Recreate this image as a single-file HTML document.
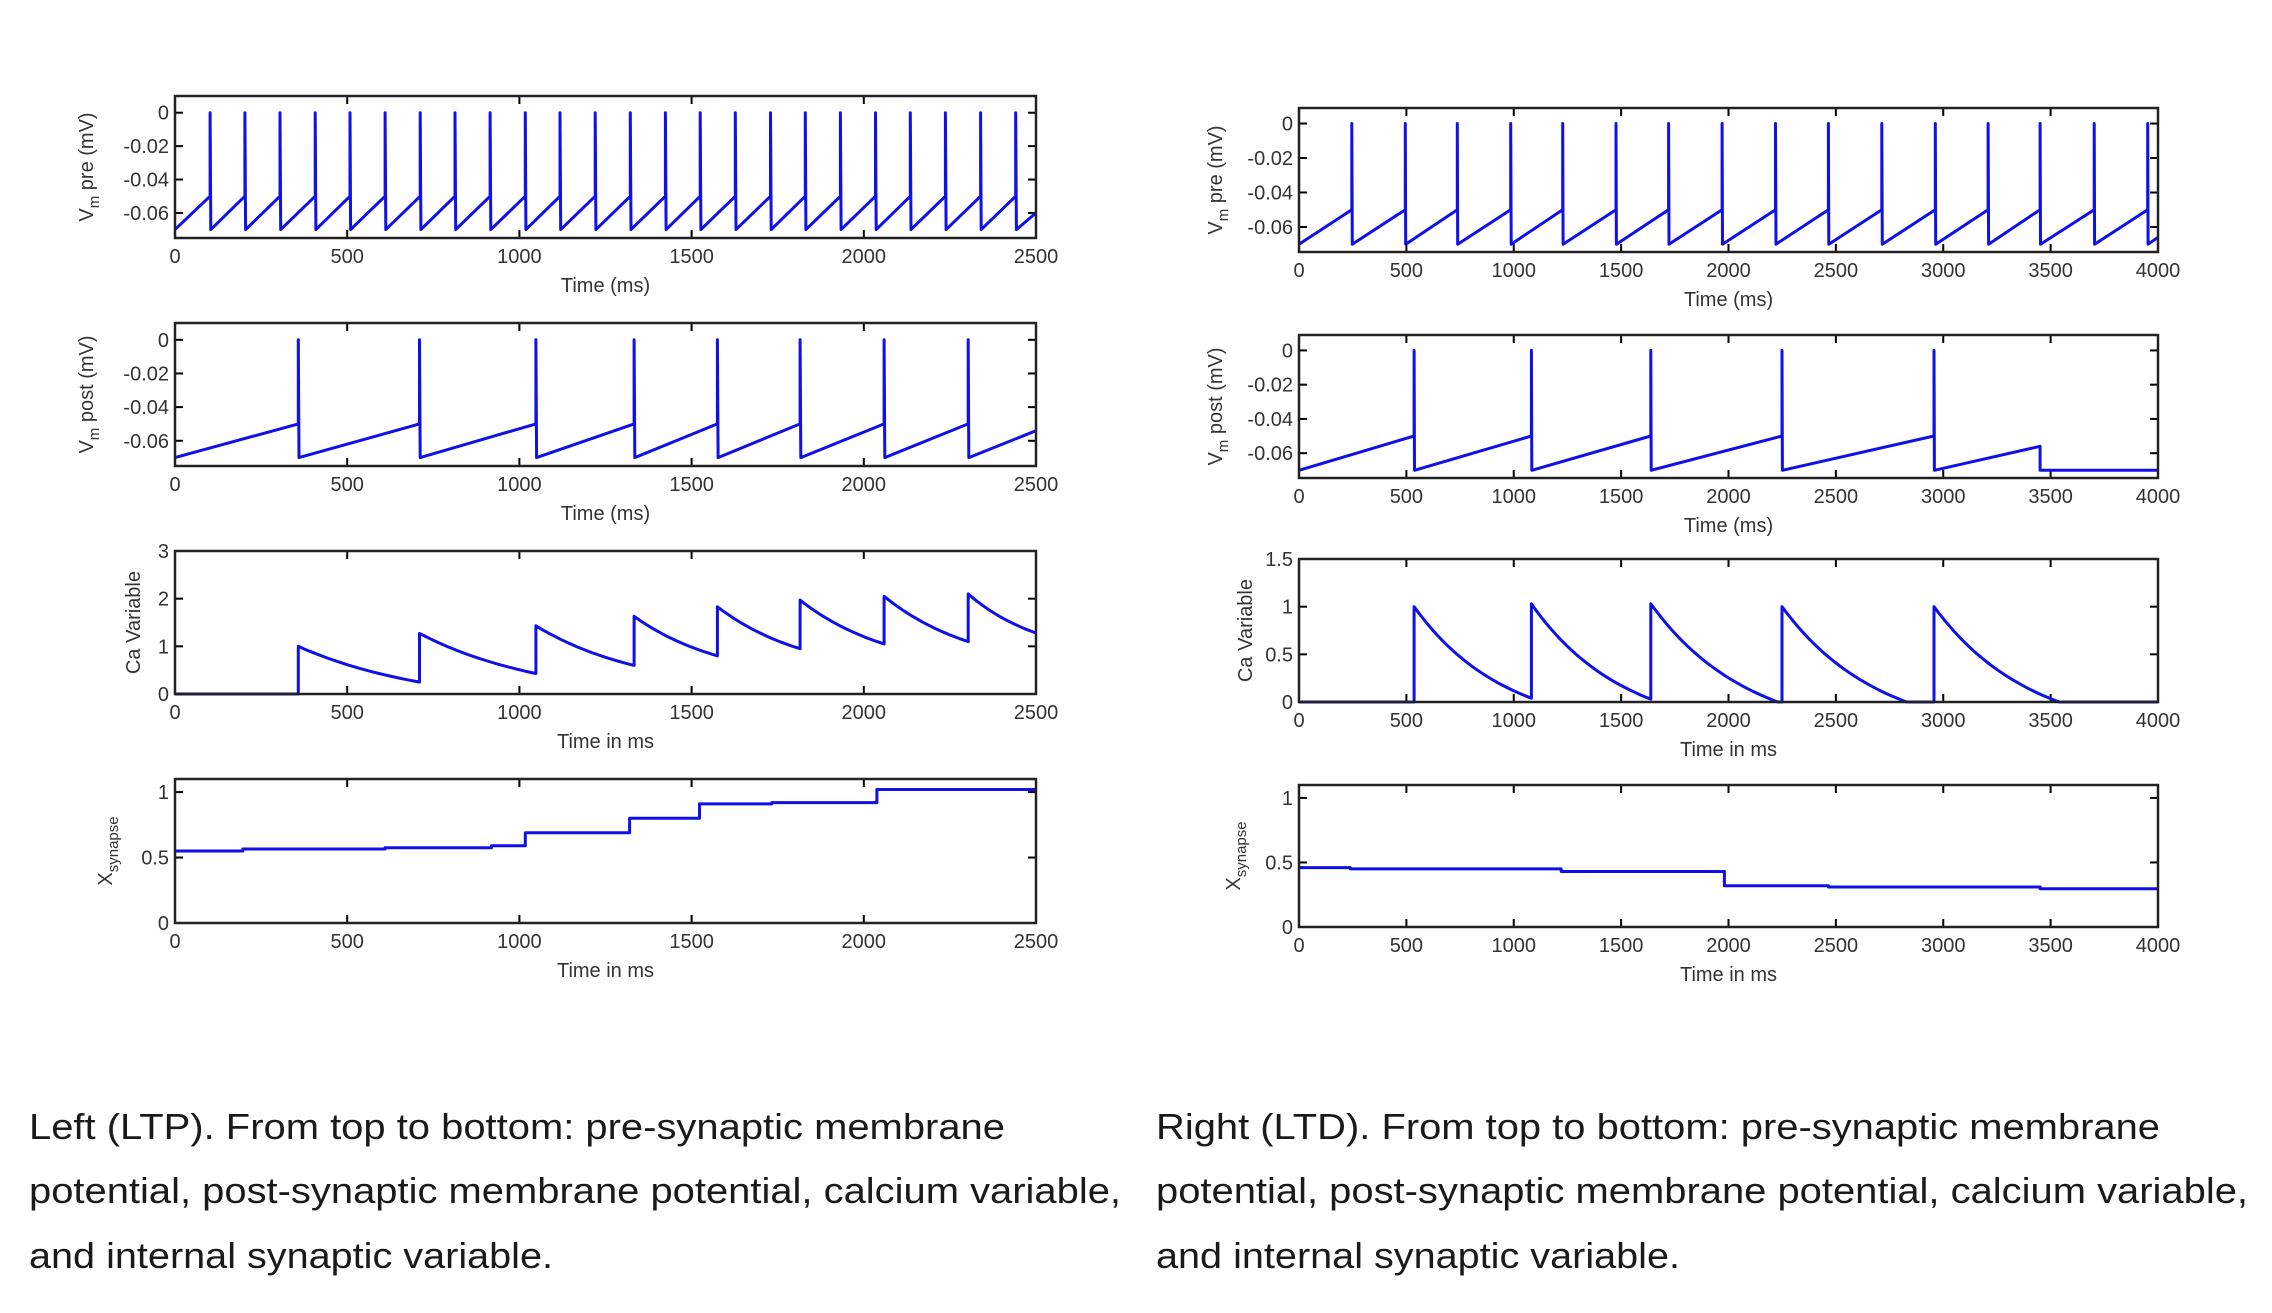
<!DOCTYPE html>
<html><head><meta charset="utf-8"><style>
html,body{margin:0;padding:0;background:#fff;}
svg{display:block;}
.tk{font-family:"Liberation Sans",sans-serif;font-size:20px;fill:#333;}
.cap{font-family:"Liberation Sans",sans-serif;font-size:36px;fill:#1a1a1a;}
</style></head><body>
<svg id="fig" width="2272" height="1313" viewBox="0 0 2272 1313" xmlns="http://www.w3.org/2000/svg">
<text class="cap" x="29" y="1139" textLength="976" lengthAdjust="spacingAndGlyphs">Left (LTP). From top to bottom: pre-synaptic membrane</text>
<text class="cap" x="29" y="1203" textLength="1092" lengthAdjust="spacingAndGlyphs">potential, post-synaptic membrane potential, calcium variable,</text>
<text class="cap" x="29" y="1268" textLength="524" lengthAdjust="spacingAndGlyphs">and internal synaptic variable.</text>
<text class="cap" x="1156" y="1139" textLength="1004" lengthAdjust="spacingAndGlyphs">Right (LTD). From top to bottom: pre-synaptic membrane</text>
<text class="cap" x="1156" y="1203" textLength="1092" lengthAdjust="spacingAndGlyphs">potential, post-synaptic membrane potential, calcium variable,</text>
<text class="cap" x="1156" y="1268" textLength="524" lengthAdjust="spacingAndGlyphs">and internal synaptic variable.</text>
</svg>
<script>
// ---- data (ms / values) ----
const ltpPreSpikes=[102,203,305,407,508,610,712,813,915,1017,1118,1220,1322,1424,1525,1627,1729,1830,1932,2034,2135,2237,2339,2441];
const ltpPostSpikes=[358,710,1048,1333,1575,1815,2059,2303];
const ltpPostEnd=-0.054;
const ltpCaPeaks=[1.0,1.27,1.43,1.63,1.83,1.97,2.05,2.1];
const ltpCaTroughs=[0.25,0.43,0.6,0.8,0.95,1.05,1.1,1.28];
const ltpXTimes=[0,197,610,919,1017,1320,1523,1733,2038];
const ltpXVals=[0.55,0.565,0.575,0.59,0.69,0.80,0.91,0.92,1.02];
const ltdPreSpikes=[246,495,737,986,1228,1476,1721,1970,2219,2465,2714,2963,3209,3451,3703,3952];
const ltdPostSpikes=[536,1082,1638,2249,2957];
const ltdPostLastRamp=[3451,-0.056];
const ltdCaPeaks=[1.0,1.03,1.03,1.0,1.0];
const ltdCaZeroTimes=[1082,1638,2230,2830,3540];
const ltdCaTroughs=[0.04,0.03,0,0,0];
const ltdXTimes=[0,239,1221,1981,2465,3451];
const ltdXVals=[0.46,0.45,0.43,0.32,0.31,0.297];
const vTicks=[0,-0.02,-0.04,-0.06];
const vTickLabels=["0","-0.02","-0.04","-0.06"];

const NS="http://www.w3.org/2000/svg";
const svg=document.getElementById('fig');
function mk(tag,attrs,parent){const e=document.createElementNS(NS,tag);for(const k in attrs)e.setAttribute(k,attrs[k]);(parent||svg).appendChild(e);return e;}

function axes(o){
  const g=mk('g',{});
  
  
  const sx=v=>o.x0+(v-o.xmin)/(o.xmax-o.xmin)*(o.x1-o.x0);
  const sy=v=>o.y1-(v-o.ymin)/(o.ymax-o.ymin)*(o.y1-o.y0);
  for(let t=0;t<=o.xmax;t+=500){
    const X=sx(t);
    mk('line',{x1:X,y1:o.y1,x2:X,y2:o.y1-8,stroke:'#000','stroke-width':2},g);
    mk('line',{x1:X,y1:o.y0,x2:X,y2:o.y0+8,stroke:'#000','stroke-width':2},g);
    const tl=mk('text',{x:X,y:o.y1+25,'text-anchor':'middle',class:'tk'},g);tl.textContent=t;
    
    
  }
  o.yt.forEach((v,i)=>{
    const Y=sy(v);
    mk('line',{x1:o.x0,y1:Y,x2:o.x0+8,y2:Y,stroke:'#000','stroke-width':2},g);
    mk('line',{x1:o.x1,y1:Y,x2:o.x1-8,y2:Y,stroke:'#000','stroke-width':2},g);
    const tl=mk('text',{x:o.x0-6,y:Y+7,'text-anchor':'end',class:'tk'},g);tl.textContent=o.yl[i];
    
    
  });
  const xt=mk('text',{x:(o.x0+o.x1)/2,y:o.y1+54,'text-anchor':'middle',class:'tk'},g);xt.textContent=o.xlabel;
  
  
  const yt=mk('text',{transform:`translate(${o.ylx},${(o.y0+o.y1)/2}) rotate(-90)`,'text-anchor':'middle',class:'tk'},g);
  
  
  yt.innerHTML=o.ylabel;
  const d=o.pts.map((p,i)=>(i?'L':'M')+sx(p[0]).toFixed(1)+','+sy(p[1]).toFixed(1)).join('');
  const pth=mk('path',{d:d,fill:'none',stroke:'#1010e8','stroke-width':3,'stroke-linejoin':'round'},g);
  
  
  const fr=mk('rect',{x:o.x0,y:o.y0,width:o.x1-o.x0,height:o.y1-o.y0,fill:'none',stroke:'#222','stroke-width':2.5},g);
  
  
}
function spikeTrain(spikes,tmax,endV){
  const p=[[0,-0.07]];
  spikes.forEach(s=>{p.push([s,-0.05]);p.push([s,0]);p.push([s+2,-0.07]);});
  p.push([tmax,endV]);return p;
}
function caTrace(spk,peaks,ends,endTimes,tmax,k){
  const p=[[0,0],[spk[0],0]];
  const den=1-Math.exp(-k);
  spk.forEach((s,i)=>{
    const e=endTimes[i],a=peaks[i],b=ends[i];
    for(let j=0;j<=24;j++){const u=j/24;const t=s+(e-s)*u;p.push([t,b+(a-b)*(Math.exp(-k*u)-Math.exp(-k))/den]);}
    const nxt=(i+1<spk.length)?spk[i+1]:tmax;
    if(e<nxt)p.push([nxt,b]);
  });
  return p;
}
function steps(ts,vs,tmax){const p=[];ts.forEach((t,i)=>{if(i)p.push([t,vs[i-1]]);p.push([t,vs[i]]);});p.push([tmax,vs[vs.length-1]]);return p;}

const L={x0:175,x1:1036,xmax:2500,xmin:0};
const R={x0:1299,x1:2158,xmax:4000,xmin:0};
const vmPre='V<tspan font-size="15" dy="6">m</tspan><tspan dy="-6"> pre (mV)</tspan>';
const vmPost='V<tspan font-size="15" dy="6">m</tspan><tspan dy="-6"> post (mV)</tspan>';
const xs='X<tspan font-size="15" dy="6">synapse</tspan>';

axes(Object.assign({},L,{name:'ltp-pre-plot',y0:96,y1:238,ymin:-0.075,ymax:0.01,yt:vTicks,yl:vTickLabels,xlabel:'Time (ms)',ylabel:vmPre,ylx:93,pts:spikeTrain(ltpPreSpikes,2500,-0.06)}));
axes(Object.assign({},L,{name:'ltp-post-plot',y0:323,y1:466,ymin:-0.075,ymax:0.01,yt:vTicks,yl:vTickLabels,xlabel:'Time (ms)',ylabel:vmPost,ylx:93,pts:spikeTrain(ltpPostSpikes,2500,ltpPostEnd)}));
const ltpEnds=ltpPostSpikes.slice(1).concat([2500]);
axes(Object.assign({},L,{name:'ltp-ca-plot',y0:551,y1:694,ymin:0,ymax:3,yt:[0,1,2,3],yl:["0","1","2","3"],xlabel:'Time in ms',ylabel:'Ca Variable',ylx:140,pts:caTrace(ltpPostSpikes,ltpCaPeaks,ltpCaTroughs,ltpEnds,2500,0.9)}));
axes(Object.assign({},L,{name:'ltp-xsyn-plot',y0:779,y1:923,ymin:0,ymax:1.1,yt:[0,0.5,1],yl:["0","0.5","1"],xlabel:'Time in ms',ylabel:xs,ylx:112,pts:steps(ltpXTimes,ltpXVals,2500)}));

axes(Object.assign({},R,{name:'ltd-pre-plot',y0:108,y1:252,ymin:-0.0745,ymax:0.009,yt:vTicks,yl:vTickLabels,xlabel:'Time (ms)',ylabel:vmPre,ylx:1222,pts:spikeTrain(ltdPreSpikes,4000,-0.066)}));
let rp=spikeTrain(ltdPostSpikes,4000,-0.07);rp.pop();
rp.push(ltdPostLastRamp);rp.push([ltdPostLastRamp[0],-0.07]);rp.push([4000,-0.07]);
axes(Object.assign({},R,{name:'ltd-post-plot',y0:335,y1:478,ymin:-0.0745,ymax:0.009,yt:vTicks,yl:vTickLabels,xlabel:'Time (ms)',ylabel:vmPost,ylx:1222,pts:rp}));
axes(Object.assign({},R,{name:'ltd-ca-plot',y0:559,y1:702,ymin:0,ymax:1.5,yt:[0,0.5,1,1.5],yl:["0","0.5","1","1.5"],xlabel:'Time in ms',ylabel:'Ca Variable',ylx:1252,pts:caTrace(ltdPostSpikes,ltdCaPeaks,ltdCaTroughs,ltdCaZeroTimes,4000,1.3).concat([[4000,0]])}));
axes(Object.assign({},R,{name:'ltd-xsyn-plot',y0:785,y1:927,ymin:0,ymax:1.1,yt:[0,0.5,1],yl:["0","0.5","1"],xlabel:'Time in ms',ylabel:xs,ylx:1240,pts:steps(ltdXTimes,ltdXVals,4000)}));
</script>
</body></html>
